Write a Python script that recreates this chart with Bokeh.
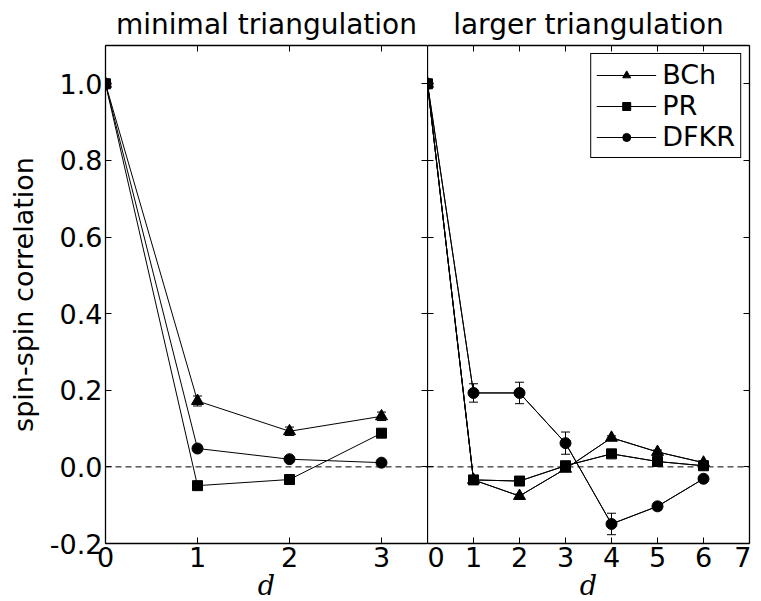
from bokeh.plotting import figure
from bokeh.models import (Range1d, LinearAxis, Span, Whisker, TeeHead, ColumnDataSource,
                          Legend, LegendItem, FixedTicker)
from bokeh.layouts import row
from bokeh.embed import file_html
from bokeh.resources import INLINE

# ---------------- data ----------------
d_min = [0, 1, 2, 3]
bch_min = [1.0, 0.172, 0.093, 0.132]
bch_min_err = [0.0, 0.013, 0.011, 0.011]
pr_min = [1.0, -0.049, -0.033, 0.088]
pr_min_err = [0.0, 0.004, 0.004, 0.005]
dfkr_min = [1.0, 0.048, 0.020, 0.011]
dfkr_min_err = [0.0, 0.008, 0.007, 0.007]

d_lar = [0, 1, 2, 3, 4, 5, 6]
bch_lar = [1.0, -0.034, -0.076, -0.005, 0.076, 0.039, 0.011]
bch_lar_err = [0.0, 0.004, 0.005, 0.005, 0.005, 0.005, 0.004]
pr_lar = [1.0, -0.034, -0.037, 0.003, 0.034, 0.014, 0.003]
pr_lar_err = [0.0, 0.004, 0.004, 0.005, 0.005, 0.005, 0.004]
dfkr_lar = [1.0, 0.193, 0.193, 0.062, -0.149, -0.103, -0.031]
dfkr_lar_err = [0.0, 0.024, 0.028, 0.029, 0.028, 0.009, 0.005]

series_names = ["BCh", "PR", "DFKR"]
markers = ["triangle", "square", "circle"]
titles = ["minimal triangulation", "larger triangulation"]
y_ticks = [-0.2, 0.0, 0.2, 0.4, 0.6, 0.8, 1.0]
y_tick_labels = ["-0.2", "0.0", "0.2", "0.4", "0.6", "0.8", "1.0"]
x_ticks_min = [0, 1, 2, 3]
x_ticks_lar = [0, 1, 2, 3, 4, 5, 6, 7]
x_label = "d"
y_label = "spin-spin correlation"

FONT = "DejaVu Sans"
FS = "27px"
TITLE_FS = "28px"
FRAME_W = 322
FRAME_H = 498
MSIZE = {"triangle": 12, "square": 10, "circle": 11}
LEG_MSIZE = {"triangle": 6, "square": 6, "circle": 6}

y_range = Range1d(-0.2, 1.1)


def style_axis(ax, ticks, labels=True, overrides=None, line=True):
    ax.ticker = FixedTicker(ticks=ticks)
    ax.major_tick_in = 6
    ax.major_tick_out = 0
    ax.minor_tick_line_color = None
    ax.axis_line_color = "black" if line else None
    ax.axis_line_width = 1.3
    ax.major_tick_line_color = "black"
    ax.major_tick_line_width = 1
    ax.major_label_text_font = FONT
    if overrides:
        ax.major_label_overrides = overrides
    if labels:
        ax.major_label_text_color = "black"
        ax.major_label_text_font_size = FS
        ax.major_label_standoff = 3
    else:
        ax.major_label_text_color = None
        ax.major_label_text_font_size = "0px"
        ax.major_label_standoff = 0


def make_panel(title, xs, ys_list, errs_list, x_end, x_ticks, first, legend=False):
    p = figure(frame_width=FRAME_W, frame_height=FRAME_H, x_range=Range1d(0, x_end),
               y_range=y_range, output_backend="svg", toolbar_location=None, title=title,
               min_border_left=105 if first else 0, min_border_right=0 if first else 2,
               min_border_top=40, min_border_bottom=0)
    p.grid.visible = False
    p.outline_line_color = None
    p.background_fill_color = "white"
    p.border_fill_color = "white"
    p.title.align = "center"
    p.title.text_font = FONT
    p.title.text_font_size = TITLE_FS
    p.title.text_font_style = "normal"
    p.title.text_color = "black"

    ovr = {t: l for t, l in zip(y_ticks, y_tick_labels)}
    style_axis(p.yaxis[0], y_ticks, labels=first, overrides=ovr)
    style_axis(p.xaxis[0], x_ticks, labels=True)
    if first:
        p.yaxis[0].axis_label = y_label
        p.yaxis[0].axis_label_text_font = FONT
        p.yaxis[0].axis_label_text_font_size = FS
        p.yaxis[0].axis_label_text_font_style = "normal"
        p.yaxis[0].axis_label_text_color = "black"
        p.yaxis[0].axis_label_standoff = 8
    p.xaxis[0].axis_label = x_label
    p.xaxis[0].axis_label_text_font = "DejaVu Serif"
    p.xaxis[0].axis_label_text_font_size = FS
    p.xaxis[0].axis_label_text_font_style = "italic"
    p.xaxis[0].axis_label_text_color = "black"
    p.xaxis[0].axis_label_standoff = 0

    ra = LinearAxis()
    style_axis(ra, y_ticks, labels=False, line=not first)
    p.add_layout(ra, "right")
    ta = LinearAxis()
    style_axis(ta, x_ticks, labels=False)
    p.add_layout(ta, "above")

    p.add_layout(Span(location=0, dimension="width", line_color="black",
                      line_width=1, line_dash="6 4"))

    items = []
    if legend:
        # legend-only renderers: same data, smaller markers, drawn beneath the real ones
        for name, mk, ys in zip(series_names, markers, ys_list):
            lr = p.line(xs, ys, line_color="black", line_width=1)
            sr = p.scatter(xs, ys, marker=mk, size=LEG_MSIZE[mk],
                           fill_color="black", line_color="black")
            items.append(LegendItem(label=name, renderers=[lr, sr]))

    for name, mk, ys, es in zip(series_names, markers, ys_list, errs_list):
        p.line(xs, ys, line_color="black", line_width=1)
        p.scatter(xs, ys, marker=mk, size=MSIZE[mk], fill_color="black", line_color="black")
        ex = [x for x, e in zip(xs, es) if e > 0]
        up = [y + e for y, e in zip(ys, es) if e > 0]
        lo = [y - e for y, e in zip(ys, es) if e > 0]
        src = ColumnDataSource(dict(x=ex, upper=up, lower=lo))
        p.add_layout(Whisker(source=src, base="x", upper="upper", lower="lower",
                             line_color="black", line_width=1,
                             upper_head=TeeHead(size=9, line_color="black", line_width=1),
                             lower_head=TeeHead(size=9, line_color="black", line_width=1)))

    if legend:
        leg = Legend(items=items, location="top_right", margin=8, padding=5, spacing=0,
                     label_text_font=FONT, label_text_font_size=FS,
                     label_text_color="black",
                     border_line_color="black", border_line_width=1, border_line_alpha=1,
                     background_fill_color="white", background_fill_alpha=1,
                     glyph_width=60, glyph_height=20, label_height=20, label_standoff=6)
        p.add_layout(leg)
    return p


p1 = make_panel(titles[0], d_min, [bch_min, pr_min, dfkr_min],
                [bch_min_err, pr_min_err, dfkr_min_err], 3.5, x_ticks_min, True)
p2 = make_panel(titles[1], d_lar, [bch_lar, pr_lar, dfkr_lar],
                [bch_lar_err, pr_lar_err, dfkr_lar_err], 7, x_ticks_lar, False,
                legend=True)

layout = row(p1, p2, spacing=0)
open("out.html", "w").write(file_html(layout, INLINE))
